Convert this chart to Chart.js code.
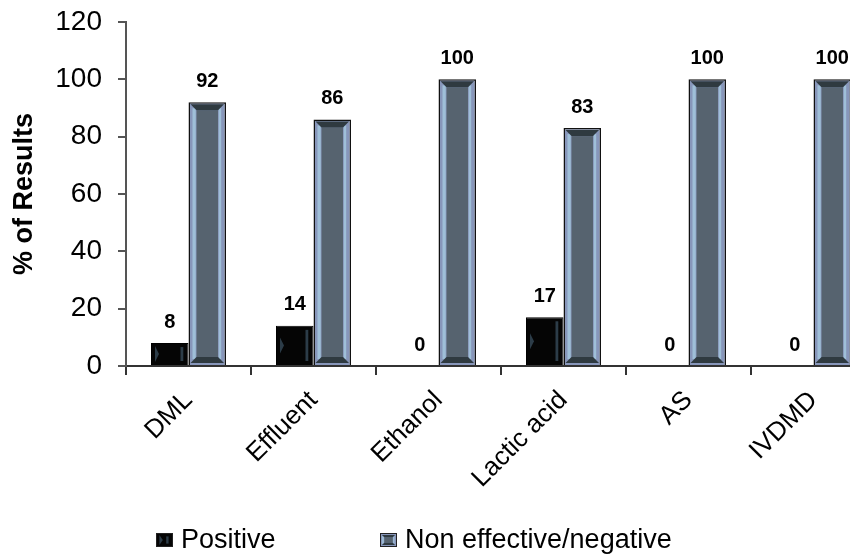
<!doctype html>
<html lang="en">
  <head>
    <meta charset="utf-8">
    <title>% of Results</title>
    <style>
      html, body { margin: 0; padding: 0; background: #fff; overflow: hidden; }
      #wrap { width: 850px; height: 556px; overflow: hidden; }
    </style>
  </head>
  <body>
    <div id="wrap">
      <canvas id="myChart" width="880" height="556"></canvas>
    </div>

    <script src="https://cdn.jsdelivr.net/npm/chart.js"></script>

    <script>
      const categories = ['DML', 'Effluent', 'Ethanol', 'Lactic acid', 'AS', 'IVDMD'];
      const positive = [8, 14, 0, 17, 0, 0];
      const negative = [92, 86, 100, 83, 100, 100];
      const yTicks = [0, 20, 40, 60, 80, 100, 120];

      const FONT = "'Liberation Sans', Arial, sans-serif";

      // bevelled face for a bar/box between l..r, t..b
      function drawFace(ctx, kind, l, r, t, b) {
        const w = r - l, h = b - t;
        if (kind === 1) {
          const e = Math.min(8, w / 4, h / 3);
          ctx.fillStyle = '#9fbfd8';
          ctx.fillRect(l + e * 0.5, t + e * 0.75, e * 0.4, h - e * 1.5);
          ctx.fillRect(r - e * 0.9, t + e * 0.75, e * 0.3, h - e * 1.5);
          ctx.fillStyle = '#56636f';
          ctx.fillRect(l + e, t + e, w - 2 * e, h - 2 * e);
          ctx.fillStyle = '#2f3a40';
          ctx.beginPath();
          ctx.moveTo(l + 2, t + 2); ctx.lineTo(r - 2, t + 2);
          ctx.lineTo(r - e, t + e); ctx.lineTo(l + e, t + e);
          ctx.closePath(); ctx.fill();
          ctx.beginPath();
          ctx.moveTo(l + 2, b - 2); ctx.lineTo(r - 2, b - 2);
          ctx.lineTo(r - e, b - e); ctx.lineTo(l + e, b - e);
          ctx.closePath(); ctx.fill();
        } else {
          const m = (t + b) / 2, hh = Math.min(8, h / 2 - 2);
          const e = Math.min(4, w / 5);
          ctx.fillStyle = '#2c3c48';
          ctx.beginPath();
          ctx.moveTo(l + e, m - hh); ctx.lineTo(l + 2 * e, m); ctx.lineTo(l + e, m + hh);
          ctx.closePath(); ctx.fill();
          ctx.fillRect(r - 2 * e, t + e, e * 0.7, h - 2 * e);
        }
      }

      const bevel = {
        id: 'bevel',
        afterDatasetDraw(chart, args) {
          const ctx = chart.ctx;
          args.meta.data.forEach(bar => {
            const p = bar.getProps(['x', 'y', 'base', 'width'], true);
            const t = Math.min(p.y, p.base), b = Math.max(p.y, p.base);
            if (b - t < 4) return;
            ctx.save();
            drawFace(ctx, args.index, p.x - p.width / 2, p.x + p.width / 2, t, b);
            ctx.restore();
          });
        }
      };

      const valueLabels = {
        id: 'valueLabels',
        afterDatasetsDraw(chart) {
          const ctx = chart.ctx;
          ctx.save();
          ctx.font = 'bold 20px ' + FONT;
          ctx.fillStyle = '#000';
          ctx.textAlign = 'center';
          ctx.textBaseline = 'bottom';
          chart.data.datasets.forEach((ds, di) => {
            chart.getDatasetMeta(di).data.forEach((bar, i) => {
              ctx.fillText(String(ds.data[i]), bar.x, bar.y - 11);
            });
          });
          ctx.restore();
        }
      };

      // legend along the bottom, laid out like the original
      const legendX = [156, 380];
      const bottomLegend = {
        id: 'bottomLegend',
        afterDraw(chart) {
          const ctx = chart.ctx;
          const y = 540;
          ctx.save();
          ctx.font = '27px ' + FONT;
          ctx.textBaseline = 'middle';
          ctx.textAlign = 'left';
          chart.data.datasets.forEach((ds, i) => {
            const x = legendX[i];
            ctx.fillStyle = ds.backgroundColor;
            ctx.fillRect(x, y - 7, 17, 14);
            drawFace(ctx, i, x, x + 17, y - 7, y + 7);
            ctx.strokeStyle = '#222';
            ctx.lineWidth = 1;
            ctx.strokeRect(x + 0.5, y - 6.5, 16, 13);
            ctx.fillStyle = '#000';
            ctx.fillText(ds.label, x + 25, y + 1);
          });
          ctx.restore();
        }
      };

      const data = {
        labels: categories,
        datasets: [{
          label: 'Positive',
          data: positive,
          backgroundColor: '#050505',
          borderColor: '#000',
          borderWidth: 1
        }, {
          label: 'Non effective/negative',
          data: negative,
          backgroundColor: '#8796ba',
          borderColor: '#111',
          borderWidth: 1.5
        }]
      };

      const config = {
        type: 'bar',
        data,
        plugins: [bevel, valueLabels, bottomLegend],
        options: {
          responsive: false,
          animation: false,
          devicePixelRatio: 1,
          layout: { padding: { top: 22, right: 4, left: 0, bottom: 40 } },
          datasets: {
            bar: { categoryPercentage: 0.6, barPercentage: 1.0 }
          },
          plugins: {
            tooltip: { enabled: false },
            legend: { display: false }
          },
          scales: {
            x: {
              afterFit: s => { s.height = 150; },
              grid: {
                display: true,
                drawOnChartArea: false,
                offset: true,
                tickLength: 9,
                color: '#333',
                lineWidth: 2
              },
              border: { display: true, color: '#333', width: 2 },
              ticks: {
                font: { family: FONT, size: 26 },
                color: '#000',
                minRotation: 45,
                maxRotation: 45,
                padding: 10
              }
            },
            y: {
              min: 0,
              max: 120,
              afterFit: s => { s.width = 126; s.paddingTop = 0; s.paddingBottom = 0; },
              afterBuildTicks: s => { s.ticks = yTicks.map(v => ({ value: v })); },
              grid: {
                display: true,
                drawOnChartArea: false,
                tickLength: 8,
                color: '#555',
                lineWidth: 2
              },
              border: { display: true, color: '#555', width: 2 },
              ticks: {
                font: { family: FONT, size: 28 },
                color: '#000',
                padding: 16
              },
              title: {
                display: true,
                text: '% of Results',
                font: { family: FONT, size: 27, weight: 'bold' },
                color: '#000',
                padding: { top: 8, bottom: 0 }
              }
            }
          }
        }
      };

      const ctx = document.getElementById('myChart');
      const myChart = new Chart(ctx, config);
    </script>
  </body>
</html>
